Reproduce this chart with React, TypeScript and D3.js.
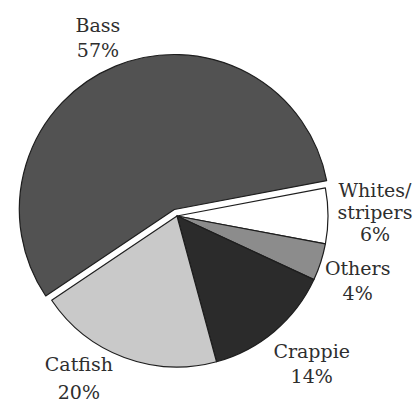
import React from "react";
import * as d3 from "d3";

// ---- data ----
const categories = ["Bass", "Whites/stripers", "Others", "Crappie", "Catfish"];
const values = [57, 6, 4, 14, 20];
const nameLines = [["Bass"], ["Whites/", "stripers"], ["Others"], ["Crappie"], ["Catfish"]];
const fills = ["#525252", "#ffffff", "#8c8c8c", "#2b2b2b", "#c9c9c9"];
const exploded = ["Bass"];

// ---- layout ----
const W = 417;
const H = 402;
const cx = 177;
const cy = 216;
const R = 151;
const explodedR = 155;
const explodeBy = 7;
const labelR = 195;
const startDeg = -123.9;
const labelNudge: Record<string, { dx: number; dy: number; lh: number }> = {
  Bass: { dx: -5, dy: 2, lh: 25 },
  "Whites/stripers": { dx: 3, dy: -4, lh: 22 },
  Others: { dx: -5, dy: 5, lh: 25 },
  Crappie: { dx: 9, dy: -2, lh: 25 },
  Catfish: { dx: -30, dy: -21, lh: 28 },
};

type Row = { name: string; value: number; lines: string[]; fill: string };
const rows: Row[] = categories.map((name, i) => ({
  name,
  value: values[i],
  lines: [...nameLines[i], `${values[i]}%`],
  fill: fills[i],
}));

const FONT = "DejaVu Serif";

export default function App() {
  const a0 = (startDeg * Math.PI) / 180;
  const pie = d3
    .pie<Row>()
    .sort(null)
    .value((d) => d.value)
    .startAngle(a0)
    .endAngle(a0 + 2 * Math.PI);
  const arcs = pie(rows);
  const fontSize = 19;

  return (
    <svg
      width={W}
      height={H}
      viewBox={`0 0 ${W} ${H}`}
      style={{ position: "absolute", left: 0, top: 0, background: "#fff" }}
    >
      <g transform={`translate(${cx},${cy})`}>
        {arcs.map((a) => {
          const isEx = exploded.includes(a.data.name);
          const mid = (a.startAngle + a.endAngle) / 2;
          const ox = isEx ? Math.sin(mid) * explodeBy : 0;
          const oy = isEx ? -Math.cos(mid) * explodeBy : 0;
          const path = d3
            .arc<d3.PieArcDatum<Row>>()
            .innerRadius(0)
            .outerRadius(isEx ? explodedR : R)(a) as string;
          return (
            <path
              key={a.data.name}
              d={path}
              transform={`translate(${ox},${oy})`}
              fill={a.data.fill}
              stroke="#1e1e1e"
              strokeWidth={1.2}
              strokeLinejoin="round"
            />
          );
        })}
        {arcs.map((a) => {
          const mid = (a.startAngle + a.endAngle) / 2;
          const nudge = labelNudge[a.data.name];
          const x = Math.sin(mid) * labelR + nudge.dx;
          const y = -Math.cos(mid) * labelR + nudge.dy;
          const n = a.data.lines.length;
          const firstY = y - ((n - 1) * nudge.lh) / 2;
          return (
            <text
              key={`l-${a.data.name}`}
              x={x}
              y={firstY}
              textAnchor="middle"
              dominantBaseline="central"
              fontFamily={FONT}
              fontSize={fontSize}
              fill="#2e2e2e"
            >
              {a.data.lines.map((t, i) => (
                <tspan key={i} x={x} y={firstY + i * nudge.lh}>
                  {t}
                </tspan>
              ))}
            </text>
          );
        })}
      </g>
    </svg>
  );
}
